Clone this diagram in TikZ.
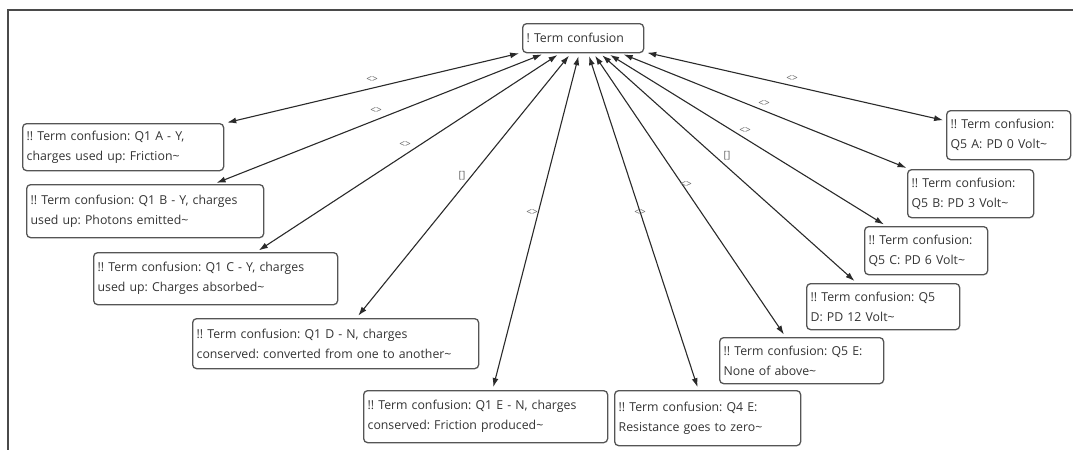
\documentclass[tikz,border=0pt]{standalone}
\usepackage{fontspec}
\setmainfont{Open Sans}
\usetikzlibrary{arrows.meta}
\definecolor{boxc}{HTML}{555555}
\definecolor{txtc}{HTML}{333333}
\definecolor{linec}{HTML}{2A2A2A}
\definecolor{labc}{HTML}{666666}
\definecolor{framec}{HTML}{4A4A4A}
\frenchspacing
\begin{document}
\begin{tikzpicture}[x=1pt,y=-1pt,
 box/.style={draw=boxc, line width=1.3pt, rounded corners=4pt, align=left,
   inner xsep=4pt, inner ysep=3pt, font=\fontsize{12.3}{20}\selectfont,
   text=txtc, anchor=north west},
 rel/.style={draw=linec, line width=1.1pt,
   {Latex[length=9pt,width=6pt]}-{Latex[length=9pt,width=6pt]},
   shorten <=3pt, shorten >=3pt},
 lab/.style={font=\fontsize{10}{10}\selectfont, text=labc, inner sep=0pt}
]
\useasboundingbox (0,0) rectangle (1073,450);
\draw[framec, line width=1.5pt] (1073,10) -- (8,10) -- (8,450);

\node[box, minimum width=121pt, minimum height=29pt, text width=113pt] (c) at (522,23) {! Term confusion};

\node[box, minimum width=201pt, minimum height=47pt, text width=193pt] (a) at (22,123) {!! Term confusion: Q1 A - Y,\\charges used up: Friction\textasciitilde};
\node[box, minimum width=237pt, minimum height=53pt, text width=229pt] (b) at (26,184) {!! Term confusion: Q1 B - Y, charges\\used up: Photons emitted\textasciitilde};
\node[box, minimum width=244pt, minimum height=52pt, text width=236pt] (cc) at (93,252) {!! Term confusion: Q1 C - Y, charges\\used up: Charges absorbed\textasciitilde};
\node[box, minimum width=286pt, minimum height=50pt, text width=278pt] (d) at (192,318) {!! Term confusion: Q1 D - N, charges\\conserved: converted from one to another\textasciitilde};
\node[box, minimum width=244pt, minimum height=52pt, text width=236pt] (e) at (363,390) {!! Term confusion: Q1 E - N, charges\\conserved: Friction produced\textasciitilde};
\node[box, minimum width=186pt, minimum height=55pt, text width=178pt] (q4e) at (614,390) {!! Term confusion: Q4 E:\\Resistance goes to zero\textasciitilde};
\node[box, minimum width=164pt, minimum height=46pt, text width=156pt] (q5e) at (719,337) {!! Term confusion: Q5 E:\\None of above\textasciitilde};
\node[box, minimum width=153pt, minimum height=46pt, text width=145pt] (q5d) at (806,283) {!! Term confusion: Q5\\D: PD 12 Volt\textasciitilde};
\node[box, minimum width=123pt, minimum height=48pt, text width=115pt] (q5c) at (864,226) {!! Term confusion:\\Q5 C: PD 6 Volt\textasciitilde};
\node[box, minimum width=126pt, minimum height=48pt, text width=118pt] (q5b) at (907,169) {!! Term confusion:\\Q5 B: PD 3 Volt\textasciitilde};
\node[box, minimum width=124pt, minimum height=49pt, text width=116pt] (q5a) at (946,110) {!! Term confusion:\\Q5 A: PD 0 Volt\textasciitilde};

\draw[rel] (c) -- (a);
\draw[rel] (c) -- (b);
\draw[rel] (c) -- (cc);
\draw[rel] (c) -- (d);
\draw[rel] (c) -- (e);
\draw[rel] (c) -- (q4e);
\draw[rel] (c) -- (q5e);
\draw[rel] (c) -- (q5d);
\draw[rel] (c) -- (q5c);
\draw[rel] (c) -- (q5b);
\draw[rel] (c) -- (q5a);

\node[lab] (la) at (372,79) {<>};
\node[lab] (lb) at (376,110) {<>};
\node[lab] (lc) at (405,144) {<>};
\node[lab] (ld) at (462,176) {[]};
\node[lab] (le) at (532,212) {<>};
\node[lab] (lq4e) at (640,212) {<>};
\node[lab] (lq5e) at (686,184) {<>};
\node[lab] (lq5d) at (727,156) {[]};
\node[lab] (lq5c) at (745,130) {<>};
\node[lab] (lq5b) at (764,103) {<>};
\node[lab] (lq5a) at (792,78) {<>};
\end{tikzpicture}
\end{document}
